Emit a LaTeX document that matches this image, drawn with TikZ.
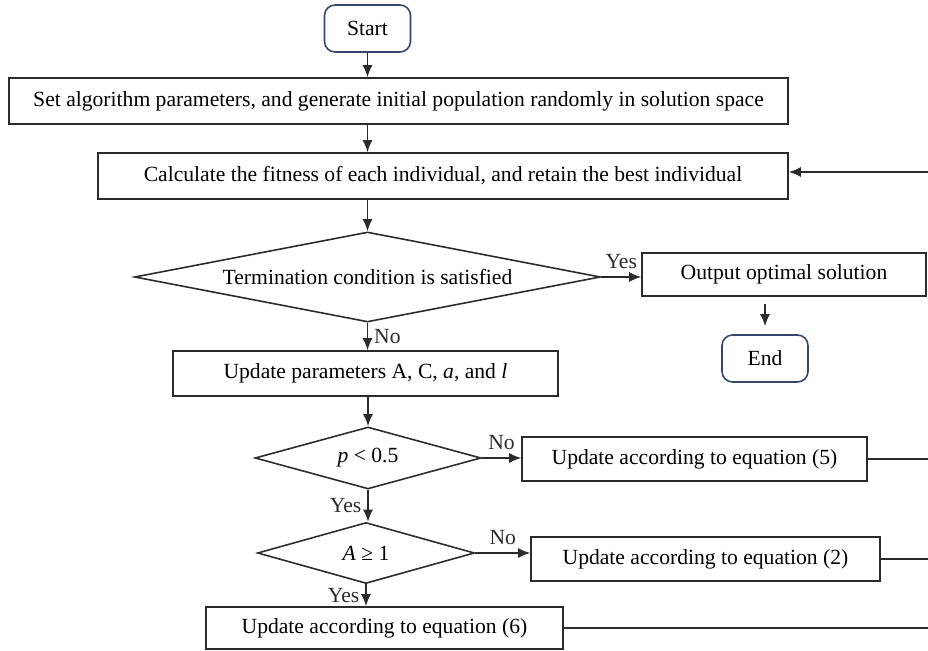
\documentclass[tikz,border=0pt]{standalone}
\usepackage{amsmath,amssymb}
\usepackage{fontspec}
\setmainfont{Liberation Serif}
\usepackage{tikz}
\usetikzlibrary{arrows.meta,calc,positioning,shapes.geometric}
\definecolor{Ink}{HTML}{2B2B2B}
\definecolor{Navy}{HTML}{34466B}

\begin{document}
\begin{tikzpicture}[every node/.style={font=\fontsize{12.3}{14}\selectfont},
  proc/.style={draw=Ink, line width=0.9pt, inner sep=0pt, align=center},
  term/.style={draw=Navy, line width=0.9pt, rounded corners=6pt, inner sep=0pt, minimum width=1.72cm, minimum height=0.94cm},
  cond/.style={draw=Ink, line width=0.9pt, diamond, inner sep=0pt},
  arr/.style={-{Latex[length=2.4mm,width=2mm]}, line width=0.9pt, Ink},
  lin/.style={line width=0.9pt, Ink}]
  \useasboundingbox (0,0) rectangle (18.56,13.02);
  \node[term] (start) at (7.35,12.45) {Start};
  \node[proc, minimum width=15.58cm, minimum height=0.92cm] (init) at (7.97,11.00) {Set algorithm parameters, and generate initial population randomly in solution space};
  \node[proc, minimum width=13.80cm, minimum height=0.92cm] (fit) at (8.86,9.50) {Calculate the fitness of each individual, and retain the best individual};
  \node[cond, aspect=5.18, minimum width=9.32cm, minimum height=1.80cm] (stop) at (7.35,7.48) {Termination condition is satisfied};
  \node[proc, minimum width=5.68cm, minimum height=0.86cm] (out) at (15.68,7.53) {Output optimal solution};
  \node[term] (end) at (15.30,5.85) {End};
  \node[proc, minimum width=7.70cm, minimum height=0.90cm] (param) at (7.31,5.55) {Update parameters A, C, \textit{a}, and \textit{l}};
  \node[cond, aspect=3.65, minimum width=4.52cm, minimum height=1.24cm] (prob) at (7.36,3.86) {\textit{p} < 0.5};
  \node[proc, minimum width=6.90cm, minimum height=0.88cm] (eqfive) at (13.89,3.84) {Update according to equation (5)};
  \node[cond, aspect=3.56, minimum width=4.34cm, minimum height=1.22cm] (coef) at (7.32,1.96) {\textit{A} ≥ 1};
  \node[proc, minimum width=6.98cm, minimum height=0.88cm] (eqtwo) at (14.11,1.84) {Update according to equation (2)};
  \node[proc, minimum width=7.14cm, minimum height=0.84cm] (eqsix) at (7.69,0.46) {Update according to equation (6)};
  \coordinate (back) at (18.56,9.58);
  \coordinate (rfive) at (18.56,3.84);
  \coordinate (rtwo) at (18.56,1.84);
  \coordinate (rsix) at (18.56,0.46);
  \draw[arr] (start.south) -- (start.south |- init.north);
  \draw[arr] (start.south |- init.south) -- (start.south |- fit.north);
  \draw[arr] (start.south |- fit.south) -- (stop.north);
  \draw[arr] (stop.east) -- node[above, yshift=1pt] {Yes} (stop.east -| out.west);
  \draw[arr] ($(end.north |- out.south)+(0,-0.14)$) -- ($(end.north)+(0,0.16)$);
  \draw[arr] (stop.south) -- node[right] {No} (stop.south |- param.north);
  \draw[arr] (prob.north |- param.south) -- (prob.north);
  \draw[arr] (prob.east) -- node[above, yshift=1pt] {No} (prob.east -| eqfive.west);
  \draw[arr] (prob.south) -- node[left] {Yes} (prob.south |- coef.north);
  \draw[arr] (coef.east) -- node[above, yshift=1pt] {No} (coef.east -| eqtwo.west);
  \draw[arr] (coef.south) -- node[left] {Yes} (coef.south |- eqsix.north);
  \draw[arr] (back) -- (back -| fit.east);
  \draw[lin] (eqfive.east) -- (rfive);
  \draw[lin] (eqtwo.east) -- (rtwo);
  \draw[lin] (eqsix.east) -- (rsix);
\end{tikzpicture}
\end{document}
